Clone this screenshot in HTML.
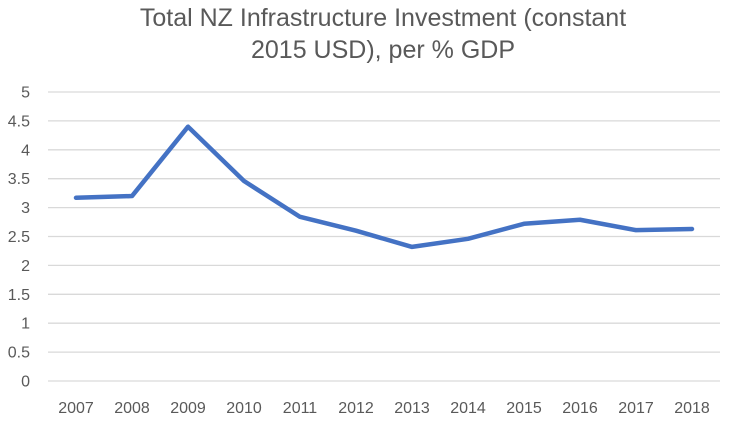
<!DOCTYPE html>
<html><head><meta charset="utf-8"><style>
body{margin:0;background:#fff;}
svg text{font-family:"Liberation Sans",sans-serif;}
</style></head><body>
<svg id="chart" width="735" height="425" viewBox="0 0 735 425">
<text x="383" y="26" font-size="25" fill="#595959" text-anchor="middle">Total NZ Infrastructure Investment (constant</text>
<text x="383" y="58" font-size="25" fill="#595959" text-anchor="middle">2015 USD), per % GDP</text>
<g id="grid"></g><g id="yticks"></g><g id="xticks"></g><g id="series"></g>
</svg>
<script>
const years=["2007","2008","2009","2010","2011","2012","2013","2014","2015","2016","2017","2018"];
const values=[3.17,3.2,4.4,3.46,2.84,2.6,2.32,2.46,2.72,2.79,2.61,2.63];
const yTicks=[0,0.5,1,1.5,2,2.5,3,3.5,4,4.5,5];
const NS="http://www.w3.org/2000/svg";
const L=48,R=720,T=92,B=381,yMax=5;
const xs=i=>L+(R-L)/years.length*(i+0.5);
const ys=v=>B-(B-T)*v/yMax;
function mk(t,a,p){const e=document.createElementNS(NS,t);for(const k in a)e.setAttribute(k,a[k]);p.appendChild(e);return e;}
const grid=document.getElementById('grid'),yt=document.getElementById('yticks'),xt=document.getElementById('xticks'),se=document.getElementById('series');
yTicks.forEach(v=>{
 const l=mk('line',{x1:L,x2:R,y1:ys(v),y2:ys(v),stroke:'#d9d9d9','stroke-width':1.3},grid);
 
 
 const t=mk('text',{x:30,y:ys(v)+5.5,'font-size':16,fill:'#595959','text-anchor':'end'},yt);
 t.textContent=String(v);
 
 
});
years.forEach((y,i)=>{
 const t=mk('text',{x:xs(i),y:413,'font-size':16,fill:'#595959','text-anchor':'middle'},xt);
 t.textContent=y;
 
 
});
const p=mk('polyline',{points:values.map((v,i)=>xs(i)+','+ys(v)).join(' '),fill:'none',stroke:'#4472c4','stroke-width':4.5,'stroke-linejoin':'round','stroke-linecap':'round'},se);


</script>
</body></html>
